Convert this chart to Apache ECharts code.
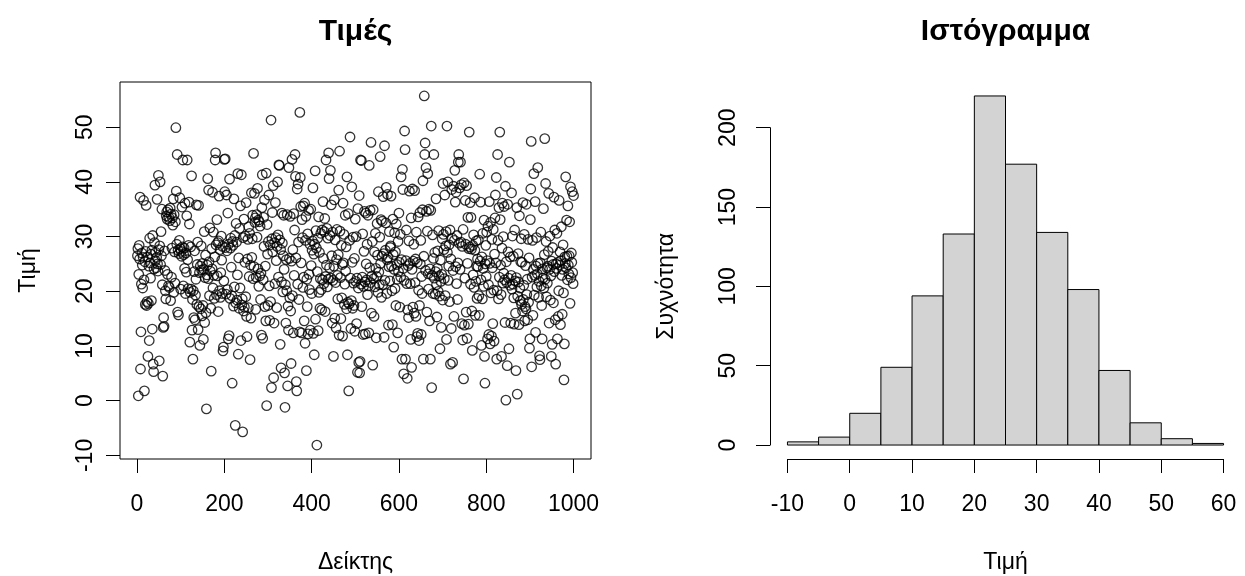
<!DOCTYPE html>
<html>
<head>
<meta charset="utf-8">
<script src="https://cdn.jsdelivr.net/npm/echarts@6/dist/echarts.min.js"></script>
<style>
html, body { margin: 0; padding: 0; background: #fff; }
#chart { width: 1245px; height: 576px; }
</style>
</head>
<body>
<div id="chart"></div>
<script>
// values, index 1..1000
const values = [
  26.5, 27.8, 0.9, 23.1, 28.4, 25.9, 37.2, 5.8, 12.6, 21.3, 27.0, 24.8, 20.6, 26.2, 36.6, 22.1, 1.8, 25.4, 17.6, 27.3,
  35.7, 17.4, 18.1, 26.3, 8.1, 17.8, 24.6, 11.0, 29.7, 25.2, 22.4, 26.8, 18.3, 27.5, 13.1, 30.2, 6.7, 5.3, 24.1, 28.9,
  39.4, 25.6, 27.1, 24.3, 26.2, 36.8, 25.0, 23.7, 41.2, 27.6, 7.3, 28.3, 40.0, 24.9, 30.9, 26.5, 35.0, 21.2, 4.5, 13.4,
  15.2, 13.6, 27.4, 23.8, 20.1, 18.6, 33.8, 34.5, 33.2, 23.1, 34.9, 21.0, 33.5, 20.7, 32.9, 35.2, 18.3, 34.1, 22.6, 27.9,
  33.4, 32.1, 36.9, 19.8, 34.0, 27.2, 21.5, 32.7, 49.9, 38.3, 28.6, 45.0, 16.2, 27.5, 15.7, 26.9, 29.3, 37.1, 27.8, 20.4,
  27.3, 26.4, 35.4, 28.1, 44.0, 21.0, 26.7, 27.9, 24.2, 36.1, 19.6, 27.0, 23.5, 33.8, 44.0, 25.8, 20.5, 28.4, 36.3, 32.3,
  10.7, 19.8, 28.1, 20.4, 41.1, 12.9, 18.5, 7.6, 20.1, 15.2, 23.6, 27.4, 14.8, 19.3, 22.2, 35.8, 17.6, 24.9, 29.0, 13.0,
  35.7, 17.2, 23.4, 10.1, 24.6, 16.8, 28.3, 23.9, 15.5, 25.1, 17.4, 11.2, 24.0, 30.9, 14.3, 22.5, 26.6, 16.1, -1.5, 23.0,
  24.8, 40.6, 22.3, 38.5, 25.4, 19.2, 31.6, 23.7, 16.9, 5.4, 27.8, 24.1, 38.1, 20.6, 30.8, 22.9, 18.7, 26.3, 44.0, 45.3,
  28.5, 19.4, 33.1, 22.8, 28.9, 16.3, 29.2, 37.4, 20.1, 27.6, 18.9, 23.4, 30.1, 25.7, 19.6, 28.2, 9.1, 9.8, 21.9, 44.1,
  38.2, 44.2, 28.0, 19.5, 37.6, 27.4, 20.3, 34.3, 11.3, 28.6, 11.9, 40.5, 18.7, 27.9, 29.7, 24.4, 19.2, 3.2, 29.1, 28.4,
  17.3, 36.9, 20.8, 30.2, -4.5, 17.9, 32.4, 29.0, 18.4, 23.0, 41.5, 8.5, 26.1, 16.9, 31.5, 20.6, 35.6, 11.0, 41.3, 17.5,
  18.6, -5.7, 29.8, 16.4, 33.2, 17.1, 25.3, 30.1, 19.0, 36.2, 15.4, 11.7, 25.9, 29.5, 17.0, 31.8, 22.7, 30.6, 7.5, 24.8,
  15.1, 38.0, 26.2, 29.6, 33.9, 22.3, 45.2, 24.5, 37.9, 32.6, 33.4, 16.7, 22.6, 34.0, 29.9, 38.8, 24.1, 33.0, 20.9, 32.7,
  22.8, 31.9, 18.5, 23.3, 12.0, 35.3, 41.3, 11.4, 22.1, 33.5, 28.2, 36.7, 17.2, 24.6, 14.6, 41.6, -0.9, 32.2, 26.8, 17.4,
  29.1, 37.6, 21.0, 14.7, 28.5, 18.1, 51.3, 2.4, 29.6, 34.4, 27.2, 39.3, 4.2, 14.2, 28.9, 21.4, 36.2, 29.8, 25.6, 17.0,
  28.2, 40.0, 30.3, 22.6, 43.1, 43.0, 29.4, 10.3, 27.6, 6.0, 21.7, 34.3, 28.8, 19.9, 26.5, 33.9, 24.0, 5.1, -1.2, 21.2,
  14.2, 25.8, 20.1, 34.0, 2.7, 17.3, 12.9, 42.6, 26.0, 18.8, 33.7, 16.4, 6.8, 25.5, 44.1, 19.2, 27.6, 12.4, 34.2, 22.9,
  31.2, 45.0, 41.0, 26.1, 3.5, 1.8, 38.7, 21.3, 39.6, 29.0, 18.5, 12.6, 52.7, 40.8, 35.5, 25.2, 12.4, 33.1, 29.8, 20.7,
  35.6, 22.6, 14.6, 36.1, 10.5, 29.3, 33.7, 5.5, 22.2, 17.2, 30.5, 12.2, 34.8, 23.1, 20.3, 28.6, 12.9, 35.0, 24.7, 19.6,
  27.5, 29.2, 38.9, 12.3, 26.8, 8.4, 28.6, 42.0, 14.9, 31.1, 27.9, -8.1, 23.6, 29.7, 12.8, 33.6, 19.8, 27.1, 16.9, 22.3,
  30.6, 20.3, 16.6, 31.2, 22.1, 36.4, 26.0, 21.4, 30.9, 33.3, 16.3, 22.7, 44.0, 24.8, 31.5, 20.8, 29.7, 22.2, 45.3, 40.6,
  24.3, 30.2, 42.1, 22.4, 35.8, 26.5, 14.2, 30.8, 22.0, 8.1, 24.6, 36.7, 15.1, 29.4, 21.6, 13.3, 25.8, 31.3, 22.9, 18.6,
  26.7, 38.5, 12.0, 45.6, 31.0, 22.5, 15.0, 28.4, 18.8, 24.9, 11.8, 36.1, 25.2, 30.4, 17.6, 21.3, 33.9, 23.7, 28.1, 16.8,
  40.9, 8.4, 18.0, 34.2, 1.8, 17.7, 29.3, 48.2, 22.4, 13.2, 18.3, 39.1, 25.3, 16.9, 29.9, 21.5, 17.4, 26.0, 12.7, 33.2,
  21.8, 30.0, 14.1, 22.4, 5.2, 35.1, 20.6, 7.0, 37.5, 5.1, 7.2, 44.0, 21.3, 43.9, 17.2, 22.6, 30.5, 12.1, 20.9, 27.3,
  34.6, 21.7, 12.2, 34.3, 25.0, 22.1, 28.6, 19.4, 33.9, 21.0, 12.4, 43.0, 24.3, 34.8, 21.6, 47.2, 16.0, 22.8, 29.1, 6.5,
  34.9, 22.3, 15.4, 27.2, 20.8, 30.6, 24.2, 11.5, 22.7, 32.4, 26.6, 19.8, 38.2, 23.5, 21.2, 29.9, 44.6, 25.1, 33.1, 18.9,
  26.4, 32.8, 21.2, 37.3, 26.9, 11.6, 46.6, 22.0, 27.5, 32.5, 39.0, 19.6, 25.8, 37.7, 26.2, 13.8, 24.5, 30.9, 21.9, 28.0,
  28.3, 37.4, 24.6, 20.1, 13.9, 33.2, 26.7, 9.8, 24.0, 30.7, 20.5, 27.2, 17.4, 32.3, 24.9, 22.2, 12.4, 29.1, 23.6, 34.3,
  25.3, 17.1, 30.4, 22.6, 40.9, 25.8, 7.6, 42.3, 38.6, 24.2, 4.9, 22.0, 49.3, 45.9, 7.6, 25.6, 31.2, 21.4, 4.1, 16.6,
  24.7, 15.2, 29.2, 38.3, 25.1, 21.4, 11.2, 33.4, 6.1, 24.0, 38.7, 17.1, 25.5, 28.6, 16.0, 38.4, 21.6, 25.9, 15.4, 30.8,
  11.7, 25.3, 12.3, 33.6, 20.2, 11.0, 17.4, 34.4, 25.0, 29.3, 12.1, 22.7, 19.6, 34.9, 40.2, 7.6, 26.4, 55.7, 45.0, 47.1,
  23.8, 42.6, 34.6, 16.2, 31.0, 41.5, 23.2, 20.4, 35.0, 14.6, 24.1, 7.6, 34.8, 50.2, 2.4, 22.9, 30.3, 19.6, 26.0, 45.0,
  22.4, 27.1, 19.5, 23.6, 36.9, 21.2, 15.3, 24.2, 27.4, 20.0, 31.1, 22.8, 19.1, 9.5, 25.7, 21.8, 13.4, 23.1, 29.6, 18.4,
  39.7, 30.4, 27.6, 22.3, 37.6, 19.2, 28.3, 30.9, 11.2, 50.2, 27.1, 40.0, 22.0, 24.6, 28.5, 18.1, 31.2, 6.7, 25.9, 13.2,
  38.6, 29.7, 7.0, 23.8, 39.2, 15.4, 29.3, 42.1, 36.3, 24.5, 38.1, 21.4, 30.2, 18.5, 25.2, 43.6, 45.0, 28.8, 38.9, 24.0,
  43.6, 29.0, 39.5, 14.1, 28.2, 11.1, 31.3, 4.0, 39.8, 13.8, 22.4, 36.6, 28.6, 16.2, 39.3, 11.4, 25.1, 33.5, 14.0, 27.8,
  49.1, 28.1, 36.2, 21.3, 33.5, 27.7, 16.4, 9.2, 28.4, 23.0, 30.3, 20.7, 37.1, 27.5, 15.6, 21.8, 29.2, 24.6, 18.7, 25.9,
  24.5, 29.4, 19.2, 15.6, 41.4, 25.5, 36.3, 22.1, 10.1, 26.3, 18.6, 30.6, 24.2, 20.9, 33.0, 8.1, 3.2, 25.0, 28.4, 22.7,
  30.8, 25.6, 11.3, 31.9, 21.2, 12.1, 36.4, 25.1, 10.4, 32.6, 19.7, 11.8, 29.5, 24.3, 14.1, 31.3, 20.2, 10.9, 26.8, 33.4,
  37.6, 25.2, 40.8, 7.6, 20.1, 45.0, 29.3, 18.6, 35.3, 22.6, 49.1, 33.1, 24.8, 19.4, 8.1, 27.9, 36.1, 21.5, 30.0, 23.3,
  35.5, 22.1, 14.3, 39.2, 0.1, 25.4, 21.6, 6.4, 35.9, 27.2, 22.4, 9.5, 43.6, 21.1, 26.3, 14.2, 22.9, 38.0, 20.4, 30.1,
  21.3, 26.4, 18.8, 14.0, 31.2, 21.9, 16.0, 5.5, 22.5, 35.3, 1.2, 19.1, 26.9, 21.7, 13.9, 33.8, 20.6, 18.3, 25.4, 29.6,
  17.6, 25.3, 16.4, 36.2, 18.5, 21.1, 30.4, 14.6, 17.2, 24.7, 16.8, 35.9, 19.4, 22.2, 14.8, 29.5, 18.0, 26.1, 9.6, 11.3,
  33.1, 38.7, 47.4, 6.2, 22.6, 29.3, 15.6, 24.0, 41.5, 19.3, 22.9, 36.4, 12.5, 24.6, 29.8, 20.8, 23.2, 42.6, 25.1, 18.9,
  21.8, 8.2, 7.5, 25.2, 30.8, 21.0, 17.4, 11.3, 24.1, 22.4, 35.1, 20.6, 26.7, 47.9, 22.2, 39.7, 29.1, 19.0, 24.3, 21.5,
  24.6, 27.3, 37.9, 14.2, 24.0, 30.1, 18.4, 22.8, 8.1, 25.5, 10.3, 28.0, 24.9, 17.9, 37.2, 23.6, 31.2, 14.8, 6.7, 25.0,
  24.2, 30.6, 11.3, 25.3, 15.4, 20.1, 36.6, 24.8, 27.2, 13.9, 25.6, 31.8, 22.9, 15.8, 24.0, 28.5, 19.7, 3.8, 10.4, 26.3,
  25.1, 40.9, 24.3, 33.0, 26.4, 22.1, 35.6, 24.8, 23.2, 26.5, 32.7, 17.8, 39.1, 22.5, 27.0, 25.3, 38.2, 23.4, 21.4, 37.5
];
const xTicks = [0, 200, 400, 600, 800, 1000];
const yTicks = [-10, 0, 10, 20, 30, 40, 50];

// histogram: left edges, width 5, bar heights
const binStarts = [-10, -5, 0, 5, 10, 15, 20, 25, 30, 35, 40, 45, 50, 55];
const binWidth = 5;
const counts = [2, 5, 20, 49, 94, 133, 220, 177, 134, 98, 47, 14, 4, 1];
const histXTicks = [-10, 0, 10, 20, 30, 40, 50, 60];
const histYTicks = [0, 50, 100, 150, 200];

const FONT = "'Liberation Sans', Arial, sans-serif";
const FS = 23;

// R pads each range by 4%
function pad(lo, hi) {
    const d = (hi - lo) * 0.04;
    return [lo - d, hi + d];
}

const sx = pad(1, values.length);
const sy = pad(Math.min.apply(null, values), Math.max.apply(null, values));
const hx = pad(binStarts[0], binStarts[binStarts.length - 1] + binWidth);
const hy = pad(0, Math.max.apply(null, counts));

const g1 = { left: 120, top: 82, width: 471, height: 377 };
const g2 = { left: 770, top: 82, width: 471, height: 377 };

// extra grids so the histogram axis lines stop at the end ticks
const hyMax = histYTicks[histYTicks.length - 1];
const g3 = {
    left: g2.left, width: g2.width,
    top: g2.top + (hy[1] - hyMax) / (hy[1] - hy[0]) * g2.height,
    height: (hyMax - histYTicks[0]) / (hy[1] - hy[0]) * g2.height
};
const hxMax = histXTicks[histXTicks.length - 1];
const g4 = {
    top: g2.top, height: g2.height,
    left: g2.left + (histXTicks[0] - hx[0]) / (hx[1] - hx[0]) * g2.width,
    width: (hxMax - histXTicks[0]) / (hx[1] - hx[0]) * g2.width
};

const lineBlack = { color: '#000', width: 1 };
const labelStyle = { color: '#000', fontSize: FS, fontFamily: FONT, formatter: function (v) { return String(v); } };
const nameStyle = { color: '#000', fontSize: FS, fontFamily: FONT };

function hidden(gridIndex, range) {
    return {
        type: 'value', gridIndex: gridIndex, show: false,
        min: range[0], max: range[1], splitLine: { show: false }
    };
}

const chart = echarts.init(document.getElementById('chart'), null, { renderer: 'canvas' });

chart.setOption({
    animation: false,
    backgroundColor: '#fff',
    grid: [
        Object.assign({ show: true, borderColor: '#000', borderWidth: 1, backgroundColor: 'transparent', outerBoundsMode: 'none' }, g1),
        Object.assign({ outerBoundsMode: 'none' }, g2),
        Object.assign({ outerBoundsMode: 'none' }, g3),
        Object.assign({ outerBoundsMode: 'none' }, g4)
    ],
    graphic: [
        {
            type: 'text', x: g1.left + g1.width / 2, y: 32,
            style: { text: 'Τιμές', fill: '#000', fontSize: 30, fontWeight: 'bold', fontFamily: FONT, align: 'center', verticalAlign: 'middle' }
        },
        {
            type: 'text', x: g2.left + g2.width / 2, y: 32,
            style: { text: 'Ιστόγραμμα', fill: '#000', fontSize: 30, fontWeight: 'bold', fontFamily: FONT, align: 'center', verticalAlign: 'middle' }
        }
    ],
    xAxis: [
        {
            type: 'value', gridIndex: 0, min: sx[0], max: sx[1],
            axisLine: { show: false, onZero: false },
            axisTick: { show: true, inside: false, length: 14, lineStyle: lineBlack, customValues: xTicks },
            axisLabel: Object.assign({ margin: 34, customValues: xTicks }, labelStyle),
            splitLine: { show: false },
            name: 'Δείκτης', nameLocation: 'middle', nameGap: 92, nameTextStyle: nameStyle, nameMoveOverlap: false
        },
        hidden(1, hx),
        hidden(2, [0, 1]),
        {
            type: 'value', gridIndex: 3, min: histXTicks[0], max: hxMax, interval: 10,
            axisLine: { show: true, onZero: false, lineStyle: lineBlack },
            axisTick: { show: true, inside: false, length: 14, lineStyle: lineBlack },
            axisLabel: Object.assign({ margin: 34, showMinLabel: true, showMaxLabel: true }, labelStyle),
            splitLine: { show: false },
            name: 'Τιμή', nameLocation: 'middle', nameGap: 92, nameTextStyle: nameStyle, nameMoveOverlap: false
        }
    ],
    yAxis: [
        {
            type: 'value', gridIndex: 0, min: sy[0], max: sy[1],
            axisLine: { show: false, onZero: false },
            axisTick: { show: true, inside: false, length: 14, lineStyle: lineBlack, customValues: yTicks },
            axisLabel: Object.assign({ margin: 23, rotate: 90, customValues: yTicks }, labelStyle),
            splitLine: { show: false },
            name: 'Τιμή', nameLocation: 'middle', nameGap: 80, nameTextStyle: nameStyle, nameMoveOverlap: false
        },
        hidden(1, hy),
        {
            type: 'value', gridIndex: 2, min: histYTicks[0], max: hyMax, interval: 50,
            axisLine: { show: true, onZero: false, lineStyle: lineBlack },
            axisTick: { show: true, inside: false, length: 14, lineStyle: lineBlack },
            axisLabel: Object.assign({ margin: 30, rotate: 90, showMinLabel: true, showMaxLabel: true }, labelStyle),
            splitLine: { show: false },
            name: 'Συχνότητα', nameLocation: 'middle', nameGap: 92, nameTextStyle: nameStyle, nameMoveOverlap: false
        },
        hidden(3, [0, 1])
    ],
    series: [
        {
            type: 'scatter', xAxisIndex: 0, yAxisIndex: 0,
            data: values.map(function (v, i) { return [i + 1, v]; }),
            symbol: 'circle', symbolSize: 9.5,
            itemStyle: { color: 'rgba(0,0,0,0)', borderColor: '#000', borderWidth: 1.3 },
            emphasis: { disabled: true },
            silent: true
        },
        {
            type: 'custom', xAxisIndex: 1, yAxisIndex: 1,
            data: binStarts.map(function (lo, i) { return [lo, lo + binWidth, counts[i]]; }),
            renderItem: function (params, api) {
                const topLeft = api.coord([api.value(0), api.value(2)]);
                const bottomRight = api.coord([api.value(1), 0]);
                return {
                    type: 'rect',
                    shape: {
                        x: topLeft[0], y: topLeft[1],
                        width: bottomRight[0] - topLeft[0],
                        height: bottomRight[1] - topLeft[1]
                    },
                    style: { fill: '#d3d3d3', stroke: '#000', lineWidth: 1 }
                };
            },
            silent: true
        }
    ]
});
</script>
</body>
</html>
